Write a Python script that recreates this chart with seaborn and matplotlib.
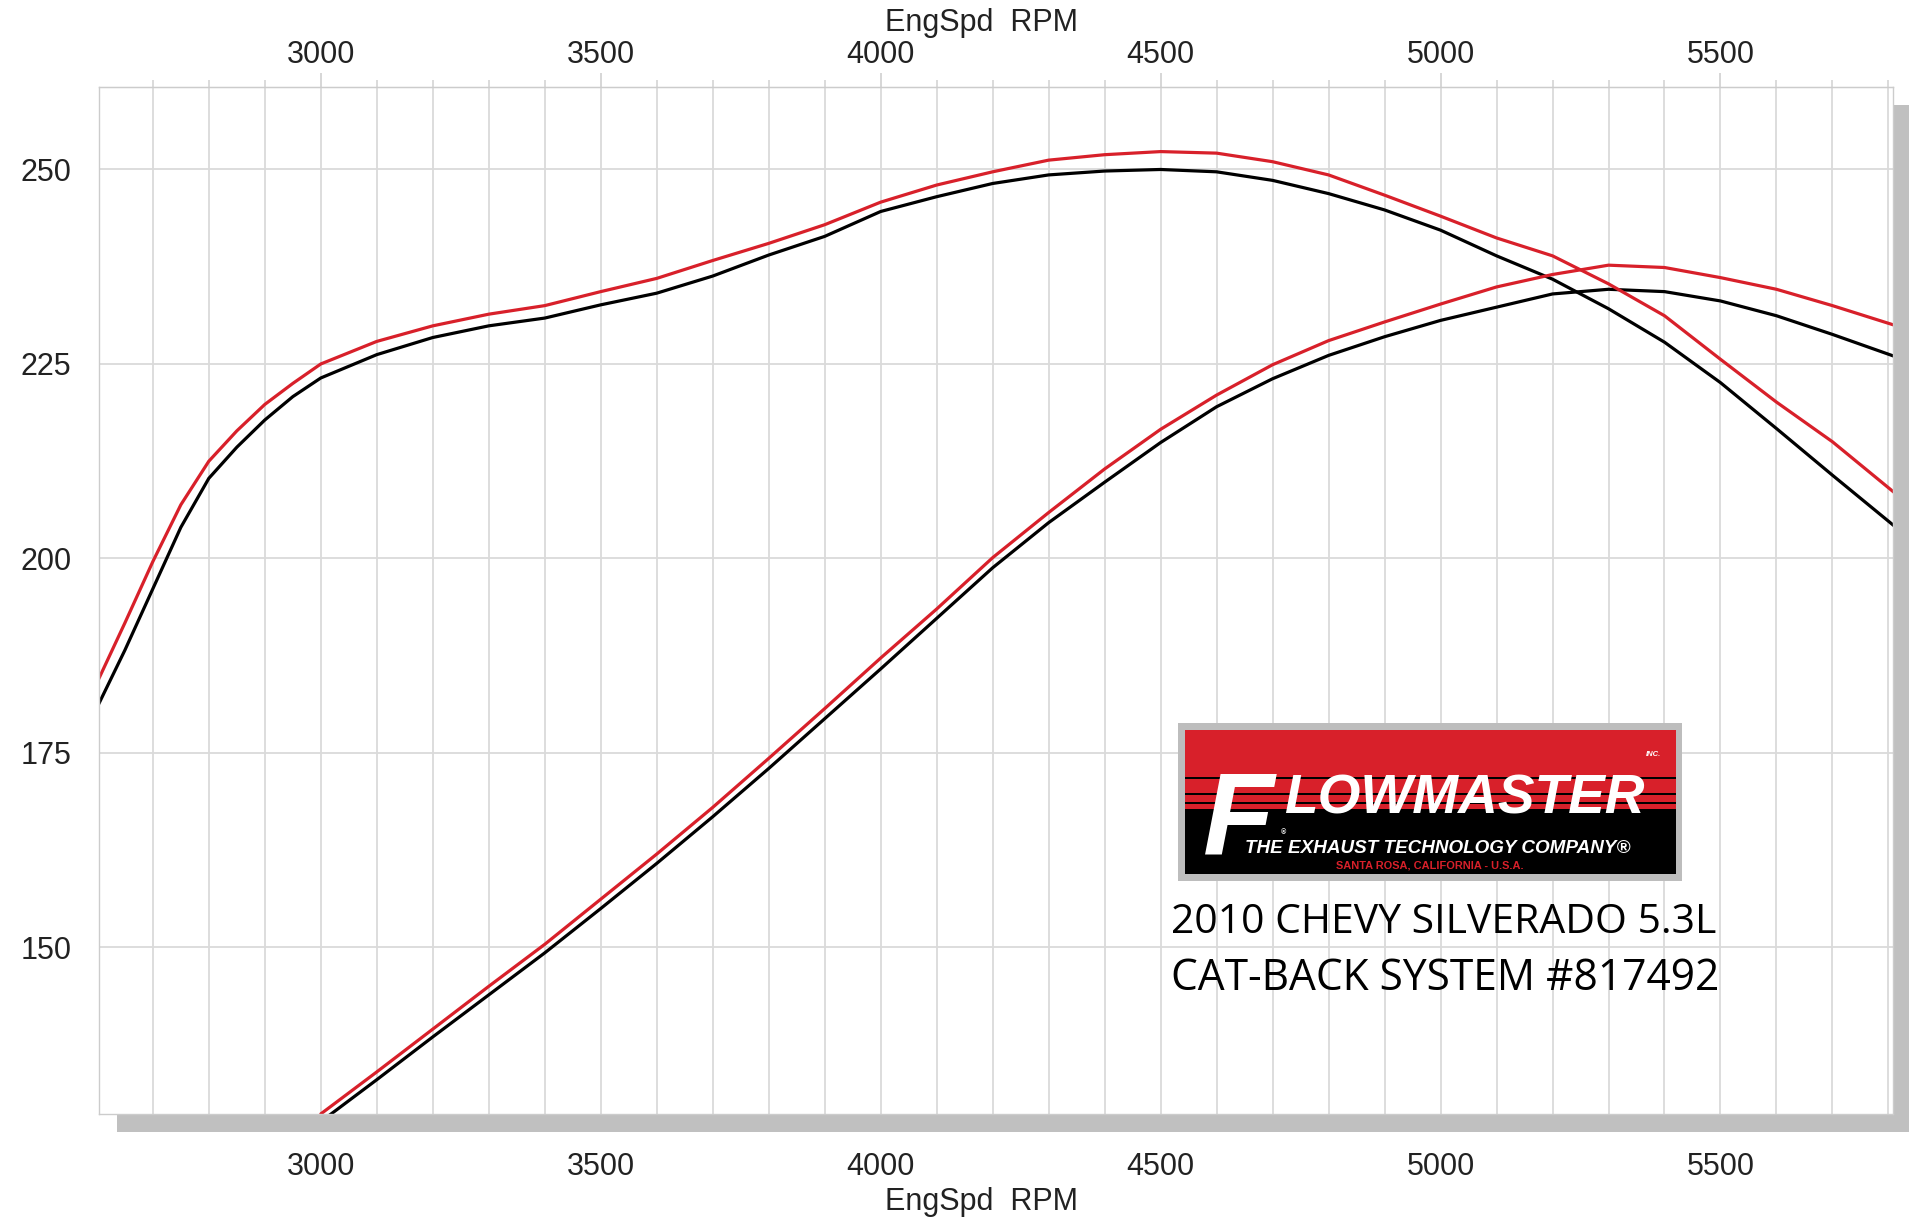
import matplotlib
matplotlib.use("Agg")
import matplotlib.pyplot as plt
import seaborn as sns
import pandas as pd
from matplotlib.patches import Rectangle
from matplotlib.ticker import MultipleLocator

# dyno data: rpm, lb-ft torque and hp, stock vs Flowmaster
rpm_tq = [2600, 2650, 2700, 2750, 2800, 2850, 2900, 2950, 3000, 3100, 3200, 3300,
          3400, 3500, 3600, 3700, 3800, 3900, 4000, 4100, 4200, 4300, 4400, 4500,
          4600, 4700, 4800, 4900, 5000, 5100, 5200, 5300, 5400, 5500, 5600, 5700, 5810]
tq_flowmaster = [184.0, 191.7, 199.6, 206.9, 212.5, 216.4, 219.8, 222.5, 225.0, 227.9,
                 229.9, 231.4, 232.5, 234.3, 236.0, 238.3, 240.5, 242.9, 245.8, 248.0,
                 249.7, 251.2, 251.9, 252.3, 252.1, 251.0, 249.3, 246.7, 244.0, 241.2,
                 238.9, 235.3, 231.2, 225.6, 220.1, 215.0, 208.5]
tq_stock = [180.8, 188.2, 196.1, 204.0, 210.3, 214.3, 217.8, 220.8, 223.2, 226.2,
            228.4, 229.9, 230.9, 232.6, 234.1, 236.3, 239.0, 241.4, 244.6, 246.5,
            248.2, 249.3, 249.8, 250.0, 249.7, 248.6, 246.9, 244.8, 242.2, 238.9,
            235.9, 232.1, 227.8, 222.6, 216.7, 210.7, 204.2]

rpm_hp = [3000, 3100, 3200, 3300, 3400, 3500, 3600, 3700, 3800, 3900, 4000, 4100,
          4200, 4300, 4400, 4500, 4600, 4700, 4800, 4900, 5000, 5100, 5200, 5300,
          5400, 5500, 5600, 5700, 5810]
hp_flowmaster = [128.6, 134.0, 139.5, 145.0, 150.4, 156.2, 162.0, 168.0, 174.3, 180.7,
                 187.2, 193.5, 200.1, 205.9, 211.5, 216.6, 221.0, 224.9, 228.0, 230.4,
                 232.7, 234.9, 236.5, 237.7, 237.4, 236.1, 234.6, 232.5, 230.0]
hp_stock = [127.6, 133.0, 138.5, 143.9, 149.3, 155.0, 160.8, 166.8, 173.0, 179.4,
            185.8, 192.3, 198.8, 204.6, 209.8, 214.9, 219.5, 223.1, 226.1, 228.5,
            230.6, 232.3, 234.0, 234.6, 234.3, 233.1, 231.2, 228.8, 226.0]

x_ticks = [3000, 3500, 4000, 4500, 5000, 5500]
y_ticks = [150, 175, 200, 225, 250]
x_label = "EngSpd  RPM"
caption = ["2010 CHEVY SILVERADO 5.3L", "CAT-BACK SYSTEM #817492"]

RED = "#d8202a"
GRID = "#dadada"
W, H = 1913, 1217

sns.set_style("white")
plt.rcParams['font.family'] = ['Liberation Sans', 'DejaVu Sans']

fig = plt.figure(figsize=(W / 100, H / 100), dpi=100)
fig.patch.set_facecolor("white")
ax = fig.add_axes([0.0518, 0.0847, 0.9377, 0.8438])


def fx(x):
    return x / W


def fy(y):
    return 1 - y / H


def box(x0, y0, x1, y1, color, z=5):
    fig.add_artist(Rectangle((fx(x0), fy(y1)), (x1 - x0) / W, (y1 - y0) / H,
                             transform=fig.transFigure, facecolor=color,
                             edgecolor="none", zorder=z))


# drop shadow of the plot box
box(1893, 105, 1909, 1132, "#c0c0c0", z=-1)
box(117, 1114, 1909, 1132, "#c0c0c0", z=-1)

tq = pd.DataFrame({"rpm": rpm_tq, "stock": tq_stock, "flow": tq_flowmaster})
hp = pd.DataFrame({"rpm": rpm_hp, "stock": hp_stock, "flow": hp_flowmaster})

for df in (tq, hp):
    sns.lineplot(data=df, x="rpm", y="stock", color="black", lw=2.3, ax=ax)
for df in (tq, hp):
    sns.lineplot(data=df, x="rpm", y="flow", color=RED, lw=2.3, ax=ax)

ax.set_xlim(2604, 5808)
ax.set_ylim(128.6, 260.6)
ax.set_xticks(x_ticks)
ax.set_yticks(y_ticks)
ax.xaxis.set_minor_locator(MultipleLocator(100))
ax.yaxis.set_minor_locator(MultipleLocator(5))
ax.grid(which="both", axis="x", color=GRID, lw=1.3)
ax.grid(which="major", axis="y", color=GRID, lw=1.3)
ax.set_axisbelow(True)
ax.set_ylabel("")
for s in ax.spines.values():
    s.set_color("#cccccc")
    s.set_linewidth(1.0)

lab_kw = dict(labelsize=22, labelcolor="#222222", color="#cfcfcf", width=1.2)
ax.tick_params(axis="x", which="major", direction="out", length=17, pad=10.5, **lab_kw)
ax.tick_params(axis="x", which="minor", length=0)
ax.tick_params(axis="y", which="major", direction="out", length=9, pad=11, **lab_kw)
ax.tick_params(axis="y", which="minor", direction="in", length=14, color="#d4d4d4", width=1.2)

top = ax.secondary_xaxis("top")
top.set_xticks(x_ticks)
top.xaxis.set_minor_locator(MultipleLocator(100))
top.tick_params(which="major", direction="out", length=10, pad=2, **lab_kw)
top.tick_params(which="minor", direction="out", length=5, color="#d4d4d4", width=1.2)
top.spines["top"].set_color("#cccccc")

ax.set_xlabel(x_label, fontsize=22, color="#222222")
top.set_xlabel(x_label, fontsize=22, color="#222222")
ax.xaxis.set_label_coords(0.492, -0.071, transform=ax.transAxes)
top.xaxis.set_label_coords(0.492, 1.055, transform=ax.transAxes)

# Flowmaster badge
box(1178, 723, 1682, 881, "#bdbdbd")
box(1185, 730, 1676, 874, "black")
box(1185, 730, 1676, 777, RED)
for y0, y1 in [(779, 793), (795, 802), (804, 809)]:
    box(1185, y0, 1676, y1, RED)

logo_kw = dict(color="white", fontweight="bold", fontstyle="italic",
               transform=fig.transFigure, zorder=6, va="baseline", ha="left")
fig.text(fx(1203), fy(854), "F", fontsize=84, **logo_kw)
t_main = fig.text(fx(1284), fy(814), "LOWMASTER", fontsize=40, **logo_kw)
fig.text(fx(1646), fy(756), "INC.", fontsize=5.5, **logo_kw)
fig.text(fx(1281), fy(834), "\u00ae", fontsize=5, **logo_kw)
t_tag = fig.text(fx(1245), fy(853), "THE EXHAUST TECHNOLOGY COMPANY\u00ae", fontsize=13,
                 **logo_kw)
t_city = fig.text(fx(1336), fy(869), "SANTA ROSA, CALIFORNIA - U.S.A.", fontsize=7,
                  color=RED, fontweight="bold", va="baseline", ha="left",
                  transform=fig.transFigure, zorder=6)

cap_texts = []
for line, yb in zip(caption, [933, 990]):
    cap_texts.append(fig.text(fx(1171), fy(yb), line, fontsize=29.5, color="black",
                              va="baseline", ha="left",
                              family=["Open Sans", "DejaVu Sans"], zorder=6))

# scale the badge and caption texts to the widths they take in the sheet
fig.canvas.draw()
rend = fig.canvas.get_renderer()
for t, width in [(t_main, 360), (t_tag, 384), (t_city, 187),
                 (cap_texts[0], 545), (cap_texts[1], 549)]:
    w = t.get_window_extent(rend).width
    t.set_fontsize(t.get_fontsize() * width / w)

fig.savefig("out.png", dpi=100, facecolor="white")
